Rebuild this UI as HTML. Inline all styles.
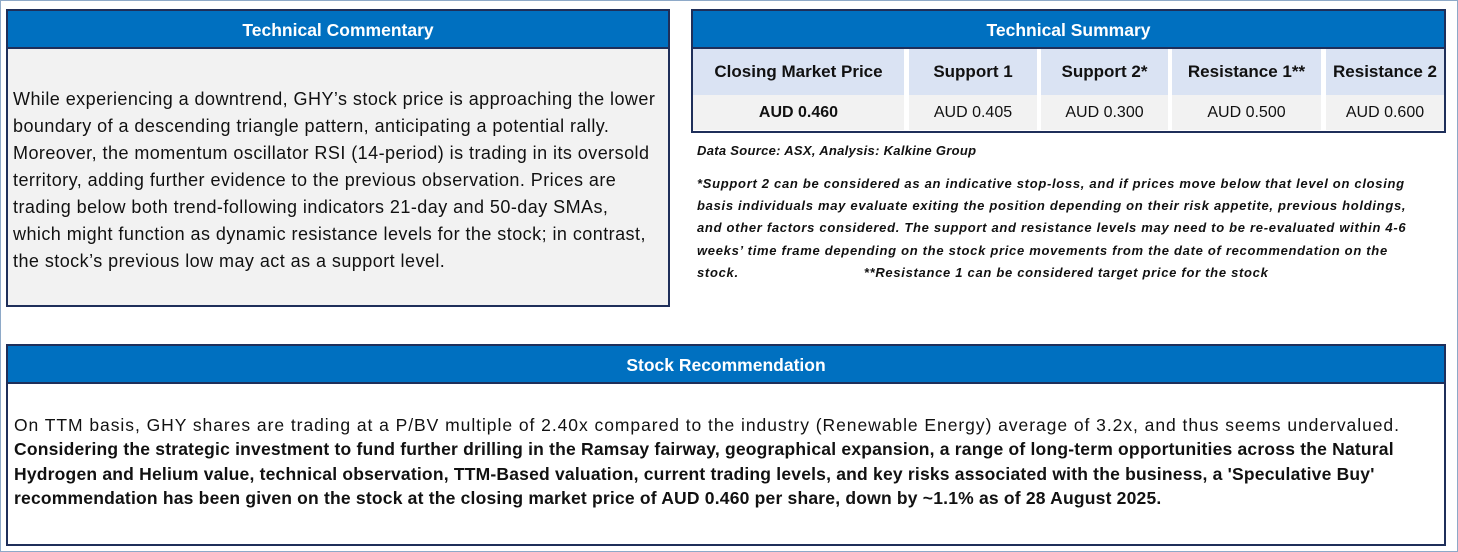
<!DOCTYPE html>
<html><head><meta charset="utf-8"><style>
body{margin:0;width:1458px;height:552px;background:#fff;position:relative;overflow:hidden;font-family:"Liberation Sans",sans-serif;}
.frame{position:absolute;left:0;top:0;width:1456px;height:550px;border:1px solid #8ea9c8;}
.box{position:absolute;border:2px solid #1f2f5a;box-sizing:border-box;}
.hdr{background:#0070c0;color:#fff;font-weight:bold;text-align:center;font-size:17.5px;height:38px;line-height:38px;border-bottom:2px solid #1f2f5a;box-sizing:border-box;}
.ln{white-space:nowrap;}
.cell{position:absolute;text-align:center;font-size:16px;color:#111;}
.h{background:#dae3f3;font-weight:bold;top:38px;height:46px;line-height:46px;font-size:17px;}
.v{background:#f2f2f2;top:84px;height:35px;line-height:35px;}
.note{position:absolute;left:697px;font-size:13px;font-weight:bold;font-style:italic;color:#111;white-space:nowrap;letter-spacing:0.7px;}
</style></head><body>
<div class="frame"></div>

<div class="box" style="left:6px;top:9px;width:664px;height:298px;background:#f2f2f2;">
<div class="hdr">Technical Commentary</div>
<div style="position:absolute;left:5px;top:75px;font-size:18px;line-height:27px;color:#111;letter-spacing:0.45px;">
<div class="ln">While experiencing a downtrend, GHY’s stock price is approaching the lower</div>
<div class="ln">boundary of a descending triangle pattern, anticipating a potential rally.</div>
<div class="ln">Moreover, the momentum oscillator RSI (14-period) is trading in its oversold</div>
<div class="ln">territory, adding further evidence to the previous observation. Prices are</div>
<div class="ln">trading below both trend-following indicators 21-day and 50-day SMAs,</div>
<div class="ln">which might function as dynamic resistance levels for the stock; in contrast,</div>
<div class="ln">the stock’s previous low may act as a support level.</div>
</div></div>

<div class="box" style="left:691px;top:9px;width:755px;height:124px;background:#fff;">
<div class="hdr">Technical Summary</div>
<div class="cell h" style="left:0;width:211px;">Closing Market Price</div>
<div class="cell h" style="left:216px;width:128px;">Support 1</div>
<div class="cell h" style="left:348px;width:127px;">Support 2*</div>
<div class="cell h" style="left:479px;width:149px;">Resistance 1**</div>
<div class="cell h" style="left:633px;width:118px;">Resistance 2</div>
<div class="cell v" style="left:0;width:211px;font-weight:bold;">AUD 0.460</div>
<div class="cell v" style="left:216px;width:128px;">AUD 0.405</div>
<div class="cell v" style="left:348px;width:127px;">AUD 0.300</div>
<div class="cell v" style="left:479px;width:149px;">AUD 0.500</div>
<div class="cell v" style="left:633px;width:118px;">AUD 0.600</div>
</div>

<div class="note" style="top:143px;letter-spacing:0.3px;">Data Source: ASX, Analysis: Kalkine Group</div>
<div class="note" style="top:173px;line-height:22.2px;">
<div>*Support 2 can be considered as an indicative stop-loss, and if prices move below that level on closing</div>
<div>basis individuals may evaluate exiting the position depending on their risk appetite, previous holdings,</div>
<div>and other factors considered. The support and resistance levels may need to be re-evaluated within 4-6</div>
<div>weeks’ time frame depending on the stock price movements from the date of recommendation on the</div>
<div>stock.&nbsp;&nbsp;&nbsp;&nbsp;&nbsp;&nbsp;&nbsp;&nbsp;&nbsp;&nbsp;&nbsp;&nbsp;&nbsp;&nbsp;&nbsp;&nbsp;&nbsp;&nbsp;&nbsp;&nbsp;&nbsp;&nbsp;&nbsp;&nbsp;&nbsp;&nbsp;&nbsp;&nbsp;&nbsp;**Resistance 1 can be considered target price for the stock</div>
</div>

<div class="box" style="left:6px;top:344px;width:1440px;height:202px;background:#fff;">
<div class="hdr">Stock Recommendation</div>
<div style="position:absolute;left:6px;top:67px;font-size:17.5px;line-height:24.3px;color:#111;">
<div class="ln" style="letter-spacing:0.95px;">On TTM basis, GHY shares are trading at a P/BV multiple of 2.40x compared to the industry (Renewable Energy) average of 3.2x, and thus seems undervalued.</div>
<div class="ln" style="font-weight:bold;letter-spacing:0.2px;">Considering the strategic investment to fund further drilling in the Ramsay fairway, geographical expansion, a range of long-term opportunities across the Natural</div>
<div class="ln" style="font-weight:bold;letter-spacing:0.2px;">Hydrogen and Helium value, technical observation, TTM-Based valuation, current trading levels, and key risks associated with the business, a 'Speculative Buy'</div>
<div class="ln" style="font-weight:bold;letter-spacing:0.2px;">recommendation has been given on the stock at the closing market price of AUD 0.460 per share, down by ~1.1% as of 28 August 2025.</div>
</div></div>
</body></html>
